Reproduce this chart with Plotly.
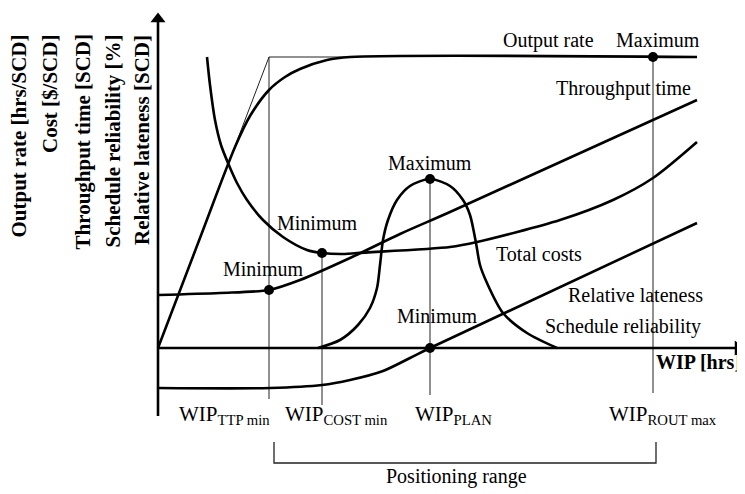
import plotly.graph_objects as go

# WIP axis in arbitrary units (origin at the axis crossing), y upward
out_x = [0, 42, 77, 92, 111, 127, 142, 169, 192, 539]
out_y = [0, 110, 201, 232, 258, 271, 279, 288, 291, 291]

ideal_x = [0, 111, 192]
ideal_y = [0, 291, 291]

cost_x = [49, 52, 57, 63, 70, 79, 89, 105, 125, 149, 164, 187, 199, 292, 319, 402, 455, 495, 539]
cost_y = [291, 263, 228, 203, 185, 165, 148, 128, 111, 98, 95, 94, 95, 101, 106, 128, 148, 170, 206]

ttp_x = [0, 62, 111, 142, 192, 242, 292, 539]
ttp_y = [53, 55, 58, 68, 90, 114, 136, 248]

rel_x = [160, 182, 200, 212, 219, 222, 225, 230, 239, 252, 272,
         292, 305, 312, 318, 322, 329, 345, 369, 399]
rel_y = [0, 8, 23, 40, 60, 83, 108, 128, 148, 162, 169,
         162, 148, 133, 105, 83, 65, 35, 15, 0]

late_x = [0, 112, 164, 192, 225, 252, 272, 539]
late_y = [-40, -40, -37, -32, -23, -10, 0, 125]

dot_x = [495, 272, 164, 111, 272]
dot_y = [291, 169, 95, 58, 0]

wip_names = ["TTP min", "COST min", "PLAN", "ROUT max"]
wip_marks = [111, 164, 272, 495]
wip_tops = [291, 95, 169, 291]
wip_bottoms = [-51, -57, -47, -45]

range_from, range_to = 116, 498

y_titles = ["Output rate [hrs/SCD]", "Cost [$/SCD]", "Throughput time [SCD]",
            "Schedule reliability [%]", "Relative lateness [SCD]"]

FONT = "Liberation Serif"
THICK = dict(color="black", width=2.6)
THIN = dict(color="#222", width=1)

fig = go.Figure()

# thin guides first
for m, t, b in zip(wip_marks, wip_tops, wip_bottoms):
    fig.add_trace(go.Scatter(x=[m, m], y=[b, t], mode="lines", line=THIN, hoverinfo="skip"))
fig.add_trace(go.Scatter(x=ideal_x, y=ideal_y, mode="lines", line=THIN, hoverinfo="skip"))

# axes with arrowheads
fig.add_trace(go.Scatter(x=[0, 0], y=[-68, 326], mode="lines", line=THICK, hoverinfo="skip"))
fig.add_trace(go.Scatter(x=[0, 578], y=[0, 0], mode="lines", line=THICK, hoverinfo="skip"))
fig.add_trace(go.Scatter(x=[0], y=[329], mode="markers", hoverinfo="skip",
                         marker=dict(symbol="triangle-up", size=13, color="black")))
fig.add_trace(go.Scatter(x=[580], y=[0], mode="markers", hoverinfo="skip",
                         marker=dict(symbol="triangle-right", size=13, color="black")))

for xs, ys in [(out_x, out_y), (cost_x, cost_y), (ttp_x, ttp_y), (rel_x, rel_y), (late_x, late_y)]:
    fig.add_trace(go.Scatter(x=xs, y=ys, mode="lines", line=dict(THICK, shape="spline", smoothing=0.8),
                             hoverinfo="skip"))

fig.add_trace(go.Scatter(x=dot_x, y=dot_y, mode="markers",
                         marker=dict(color="black", size=10), hoverinfo="skip"))

# positioning range bracket
fig.add_trace(go.Scatter(x=[range_from, range_from, range_to, range_to], y=[-94, -115, -115, -94],
                         mode="lines", line=dict(color="#222", width=1.3), hoverinfo="skip"))

ann = []
labels = [
    ("Output rate", 390, 308, "center"),
    ("Maximum", 500, 308, "center"),
    ("Throughput time", 535, 260, "right"),
    ("Maximum", 272, 185, "center"),
    ("Minimum", 159, 125, "center"),
    ("Minimum", 105, 79, "center"),
    ("Minimum", 279, 32, "center"),
    ("Total costs", 381, 94, "center"),
    ("Relative lateness", 477, 53, "center"),
    ("Schedule reliability", 465, 22, "center"),
    ("Positioning range", 298, -128, "center"),
]
for txt, x, y, xa in labels:
    ann.append(dict(x=x, y=y, text=txt, showarrow=False, xanchor=xa, yanchor="middle",
                    font=dict(family=FONT, size=20, color="black")))

ann.append(dict(x=585, y=-14, text="<b>WIP [hrs]</b>", showarrow=False, xanchor="right",
                yanchor="middle", font=dict(family=FONT, size=20, color="black")))

for name, x0 in zip(wip_names, [19, 125, 255, 449]):
    ann.append(dict(x=x0, y=-52, text=f"WIP<sub>{name}</sub>", showarrow=False, xanchor="left",
                    yanchor="top", font=dict(family=FONT, size=21, color="black")))

for txt, x in zip(y_titles, [-140, -108, -76, -46, -16]):
    ann.append(dict(x=x, y=315, text=f"<b>{txt}</b>", showarrow=False, textangle=-90,
                    xanchor="center", yanchor="top", font=dict(family=FONT, size=21, color="black")))

# the page body adds an 8px margin, so the ranges start 8px further in
fig.update_layout(
    width=745, height=494,
    margin=dict(l=0, r=0, t=0, b=0),
    paper_bgcolor="white", plot_bgcolor="white",
    showlegend=False,
    xaxis=dict(range=[-150, 595], visible=False),
    yaxis=dict(range=[-154, 340], visible=False),
    annotations=ann,
)

fig.write_html("out.html")
